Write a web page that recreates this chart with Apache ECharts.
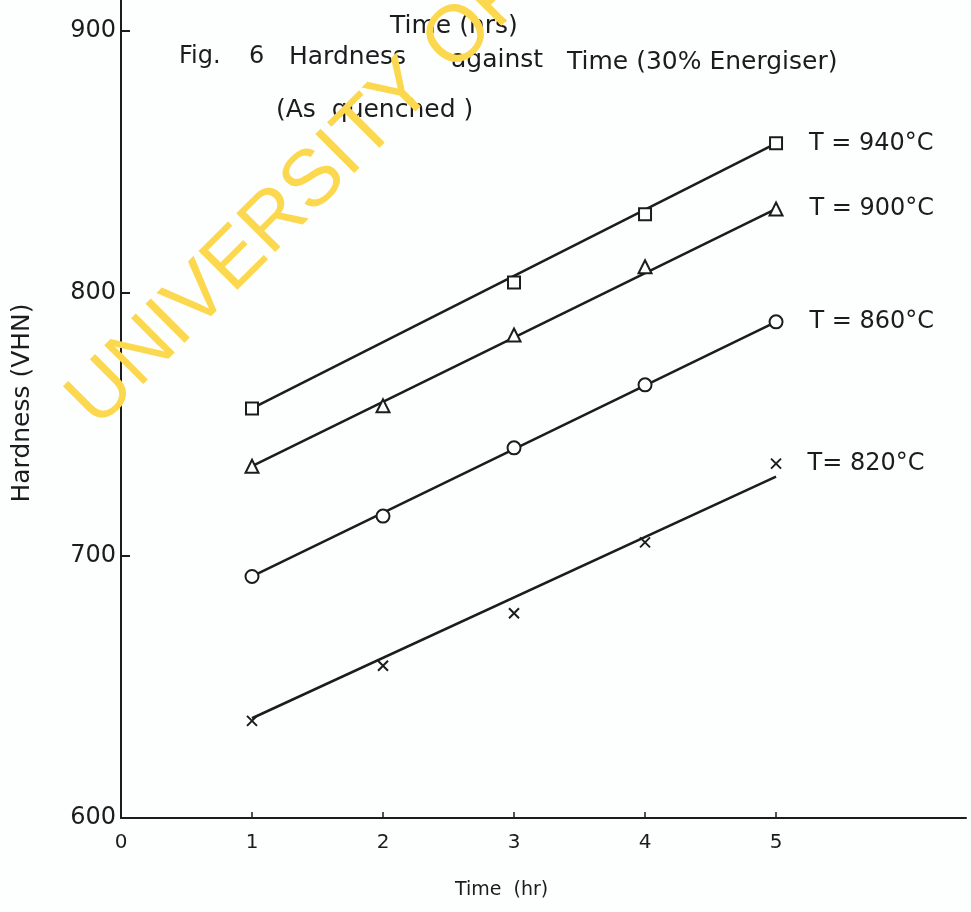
<!DOCTYPE html>
<html>
<head>
<meta charset="utf-8">
<script src="https://cdn.jsdelivr.net/npm/echarts@6/dist/echarts.min.js"></script>
<style>
html,body{margin:0;padding:0;background:#fdfefe;}
#chart{width:971px;height:912px;}
</style>
</head>
<body>
<div id="chart"></div>
<script>
// ---- data ----
var xTickLabels = [0, 1, 2, 3, 4, 5];
var xTicks = [1, 2, 3, 4, 5];
var yTickLabels = [600, 700, 800, 900];
var yTicks = [700, 800, 900];

var seriesNames = ['T = 940°C', 'T = 900°C', 'T = 860°C', 'T= 820°C'];

// measured points
var x940 = [1, 3, 4, 5];
var y940 = [756, 804, 830, 857];
var x900 = [1, 2, 3, 4, 5];
var y900 = [734, 757, 784, 810, 832];
var x860 = [1, 2, 3, 4, 5];
var y860 = [692, 715, 741, 765, 789];
var x820 = [1, 2, 3, 4, 5];
var y820 = [637, 658, 678, 705, 735];

// fitted lines (start/end)
var fitX = [1, 5];
var fit940 = [756, 857];
var fit900 = [734, 832];
var fit860 = [692, 789];
var fit820 = [638, 730];

var ink = '#1c1c1e';
var font = 'DejaVu Sans';
var labelDist = [26, 26, 26, 24];

function pts(xs, ys, label, dist) {
  return xs.map(function (x, i) {
    var d = { value: [x, ys[i]] };
    if (i === xs.length - 1) {
      d.label = { show: true, position: 'right', distance: dist, formatter: label,
        color: ink, fontFamily: font, fontSize: 24, opacity: 1 };
    }
    return d;
  });
}
function fit(ys) { return fitX.map(function (x, i) { return [x, ys[i]]; }); }

var crossPath = 'path://M0,0L10,10M10,0L0,10';

var markerStyle = { color: '#fdfefe', borderColor: ink, borderWidth: 2, opacity: 1 };

var chart = echarts.init(document.getElementById('chart'));
chart.setOption({
  backgroundColor: '#fdfefe',
  animation: false,
  grid: { left: 121, top: 0, width: 845, height: 818, containLabel: false },
  xAxis: {
    type: 'value', min: 0, max: 6.45,
    axisLine: { lineStyle: { color: ink, width: 2 } },
    axisTick: { inside: true, length: 6, customValues: xTicks, lineStyle: { color: ink, width: 1.5 } },
    axisLabel: { customValues: xTickLabels, margin: 15, color: ink, fontFamily: font, fontSize: 20 },
    splitLine: { show: false }
  },
  yAxis: {
    type: 'value', min: 600, max: 911.6,
    axisLine: { lineStyle: { color: ink, width: 2 } },
    axisTick: { inside: true, length: 9, customValues: yTicks, lineStyle: { color: ink, width: 2 } },
    axisLabel: { customValues: yTickLabels, margin: 5, color: ink, fontFamily: font, fontSize: 24 },
    splitLine: { show: false }
  },
  series: [
    { type: 'line', data: fit(fit940), symbol: 'none', lineStyle: { color: ink, width: 2.5 }, silent: true },
    { type: 'line', data: fit(fit900), symbol: 'none', lineStyle: { color: ink, width: 2.5 }, silent: true },
    { type: 'line', data: fit(fit860), symbol: 'none', lineStyle: { color: ink, width: 2.5 }, silent: true },
    { type: 'line', data: fit(fit820), symbol: 'none', lineStyle: { color: ink, width: 2.5 }, silent: true },
    { type: 'scatter', name: seriesNames[0], data: pts(x940, y940, seriesNames[0], labelDist[0]), symbol: 'rect', symbolSize: 12, itemStyle: markerStyle, z: 3 },
    { type: 'scatter', name: seriesNames[1], data: pts(x900, y900, seriesNames[1], labelDist[1]), symbol: 'triangle', symbolSize: 13, itemStyle: markerStyle, z: 3 },
    { type: 'scatter', name: seriesNames[2], data: pts(x860, y860, seriesNames[2], labelDist[2]), symbol: 'circle', symbolSize: 13, itemStyle: markerStyle, z: 3 },
    { type: 'scatter', name: seriesNames[3], data: pts(x820, y820, seriesNames[3], labelDist[3]), symbol: crossPath, symbolSize: 10, itemStyle: { color: 'none', borderColor: ink, borderWidth: 2, opacity: 1 }, z: 3 }
  ],
  graphic: [
    { type: 'text', x: 390, y: 26, style: { text: 'Time (hrs)', font: '25px "DejaVu Sans"', fill: ink, textVerticalAlign: 'middle' } },
    { type: 'text', x: 179, y: 57, style: { text: 'Fig.', font: '24px "DejaVu Sans"', fill: ink, textVerticalAlign: 'middle' } },
    { type: 'text', x: 249, y: 57, style: { text: '6', font: '24px "DejaVu Sans"', fill: ink, textVerticalAlign: 'middle' } },
    { type: 'text', x: 289, y: 57, style: { text: 'Hardness', font: '25px "DejaVu Sans"', fill: ink, textVerticalAlign: 'middle' } },
    { type: 'text', x: 451, y: 60, style: { text: 'against', font: '25px "DejaVu Sans"', fill: ink, textVerticalAlign: 'middle' } },
    { type: 'text', x: 567, y: 62, style: { text: 'Time (30% Energiser)', font: '25px "DejaVu Sans"', fill: ink, textVerticalAlign: 'middle' } },
    { type: 'text', x: 276, y: 110, style: { text: '(As  quenched )', font: '25px "DejaVu Sans"', fill: ink, textVerticalAlign: 'middle' } },
    { type: 'text', x: 455, y: 890, style: { text: 'Time  (hr)', font: '19px "DejaVu Sans"', fill: ink, textVerticalAlign: 'middle' } },
    { type: 'text', x: 22, y: 403, rotation: Math.PI / 2, style: { text: 'Hardness (VHN)', font: '25px "DejaVu Sans"', fill: ink, textAlign: 'center', textVerticalAlign: 'middle' } },
    { type: 'text', x: 82, y: 414, rotation: Math.PI / 4, z: 100,
      style: { text: 'UNIVERSITY OF IBADAN LIBRARY', font: '80px "Liberation Sans"', fill: '#fcd84e', textAlign: 'left', textVerticalAlign: 'middle' } }
  ]
});
</script>
</body>
</html>
